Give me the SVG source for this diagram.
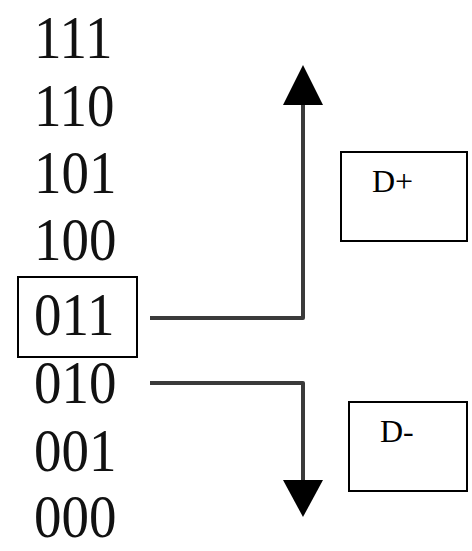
<svg xmlns="http://www.w3.org/2000/svg" width="472" height="551" viewBox="0 0 472 551">
<style>
.code{font-family:"Liberation Serif","Times New Roman",serif;font-size:55px;fill:#111}
.lbl{font-family:"Liberation Serif","Times New Roman",serif;font-size:32px;fill:#000}
.box{fill:none;stroke:#000;stroke-width:2}
.conn{fill:none;stroke:#3a3a3a;stroke-width:4;stroke-linejoin:round}
.head{fill:#000}
</style>
<rect width="472" height="551" fill="#fff"/>
<g id="codes">
<text class="code" transform="translate(34,58) scale(1,1.1)">111</text>
<text class="code" transform="translate(34,126) scale(1,1.1)">110</text>
<text class="code" transform="translate(34,193) scale(1,1.1)">101</text>
<text class="code" transform="translate(34,260) scale(1,1.1)">100</text>
<text class="code" transform="translate(34,403) scale(1,1.1)">010</text>
<text class="code" transform="translate(34,471) scale(1,1.1)">001</text>
<text class="code" transform="translate(34,537) scale(1,1.1)">000</text>
</g>
<g id="node-011">
<rect class="box" x="18" y="277" width="119" height="80"/>
<text class="code" transform="translate(34,335) scale(1,1.1)">011</text>
</g>
<g id="node-dplus">
<rect class="box" x="341" y="152" width="126" height="89" stroke-width="1.5"/>
<text class="lbl" x="372" y="192">D+</text>
</g>
<g id="node-dminus">
<rect class="box" x="349" y="402" width="118" height="89" stroke-width="1.5"/>
<text class="lbl" x="380" y="442">D-</text>
</g>
<g id="connectors">
<polyline class="conn" points="150,318 303,318 303,100"/>
<polygon class="head" points="303,65 323,105 283,105"/>
<polyline class="conn" points="150,383 303,383 303,485"/>
<polygon class="head" points="283,480 323,480 303,517"/>
</g>
</svg>
